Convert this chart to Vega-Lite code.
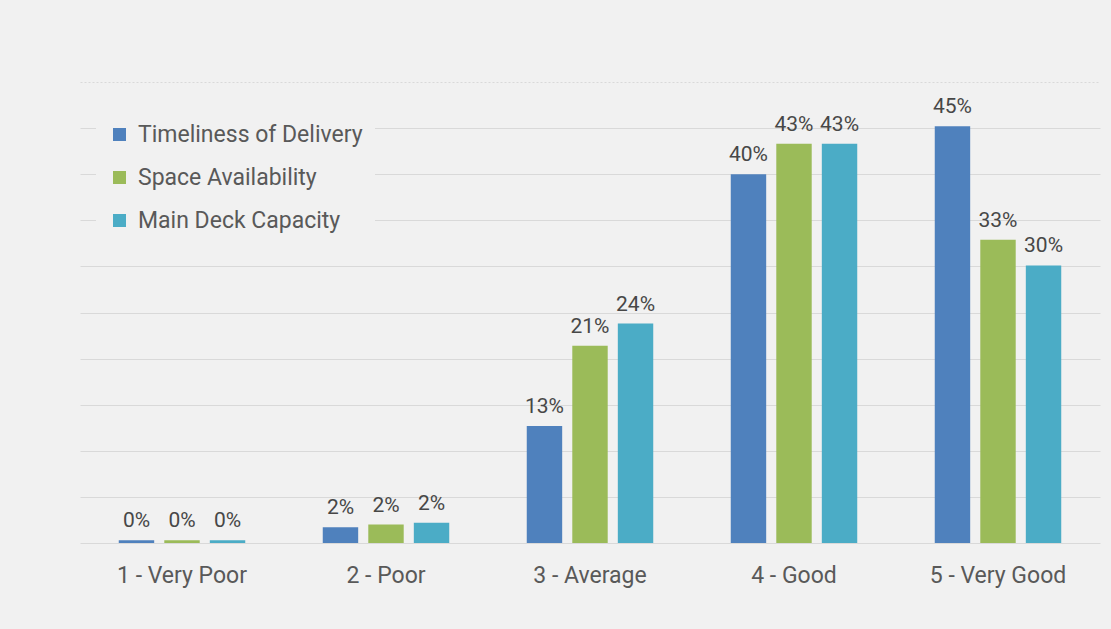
{
  "$schema": "https://vega.github.io/schema/vega-lite/v6.json",
  "width": 1020,
  "height": 461,
  "autosize": {"type": "none"},
  "padding": {"left": 80, "top": 82, "right": 11, "bottom": 86},
  "background": "#f1f1f1",
  "config": {
    "view": {"stroke": null},
    "font": "Roboto",
    "text": {"font": "Roboto"}
  },
  "data": {
    "values": [
      {"rating": "1 - Very Poor", "series": "Timeliness of Delivery", "value": 0.003},
      {"rating": "1 - Very Poor", "series": "Space Availability", "value": 0.003},
      {"rating": "1 - Very Poor", "series": "Main Deck Capacity", "value": 0.003},
      {"rating": "2 - Poor", "series": "Timeliness of Delivery", "value": 0.017},
      {"rating": "2 - Poor", "series": "Space Availability", "value": 0.020},
      {"rating": "2 - Poor", "series": "Main Deck Capacity", "value": 0.022},
      {"rating": "3 - Average", "series": "Timeliness of Delivery", "value": 0.127},
      {"rating": "3 - Average", "series": "Space Availability", "value": 0.214},
      {"rating": "3 - Average", "series": "Main Deck Capacity", "value": 0.238},
      {"rating": "4 - Good", "series": "Timeliness of Delivery", "value": 0.400},
      {"rating": "4 - Good", "series": "Space Availability", "value": 0.433},
      {"rating": "4 - Good", "series": "Main Deck Capacity", "value": 0.433},
      {"rating": "5 - Very Good", "series": "Timeliness of Delivery", "value": 0.452},
      {"rating": "5 - Very Good", "series": "Space Availability", "value": 0.329},
      {"rating": "5 - Very Good", "series": "Main Deck Capacity", "value": 0.301}
    ]
  },
  "encoding": {
    "x": {
      "field": "rating",
      "type": "nominal",
      "sort": null,
      "scale": {"paddingInner": 0.38, "paddingOuter": 0.19},
      "axis": {
        "title": null,
        "labelAngle": 0,
        "domain": false,
        "ticks": false,
        "labelFontSize": 23,
        "labelColor": "#595959",
        "labelPadding": 21,
        "labelFont": "Roboto"
      }
    },
    "xOffset": {
      "field": "series",
      "type": "nominal",
      "sort": ["Timeliness of Delivery", "Space Availability", "Main Deck Capacity"],
      "scale": {"paddingInner": 0.222, "paddingOuter": 0}
    },
    "y": {
      "field": "value",
      "type": "quantitative",
      "scale": {"domain": [0, 0.5], "nice": false},
      "axis": {
        "title": null,
        "labels": false,
        "ticks": false,
        "domain": false,
        "values": [0, 0.05, 0.1, 0.15, 0.2, 0.25, 0.3, 0.35, 0.4, 0.45, 0.5],
        "gridColor": "#d9d9d9",
        "gridWidth": 1,
        "gridDash": {"condition": {"test": "datum.value >= 0.49", "value": [2, 2]}, "value": []}
      }
    }
  },
  "layer": [
    {
      "mark": {"type": "bar"},
      "encoding": {
        "color": {
          "field": "series",
          "type": "nominal",
          "sort": ["Timeliness of Delivery", "Space Availability", "Main Deck Capacity"],
          "scale": {
            "domain": ["Timeliness of Delivery", "Space Availability", "Main Deck Capacity"],
            "range": ["#4f81bd", "#9bbb59", "#4bacc6"]
          },
          "legend": {
            "title": null,
            "orient": "none",
            "legendX": 16,
            "legendY": 29,
            "direction": "vertical",
            "symbolType": "square",
            "symbolSize": 169,
            "symbolStrokeWidth": 0,
            "labelFontSize": 23,
            "labelFont": "Roboto",
            "labelColor": "#595959",
            "labelOffset": 7,
            "rowPadding": 19,
            "padding": 12,
            "fillColor": "#f1f1f1",
            "labelLimit": 400
          }
        }
      }
    },
    {
      "mark": {"type": "text", "baseline": "bottom", "dy": -9, "fontSize": 21, "color": "#474747", "font": "Roboto"},
      "encoding": {
        "text": {"field": "value", "type": "quantitative", "format": ".0%"}
      }
    }
  ]
}
